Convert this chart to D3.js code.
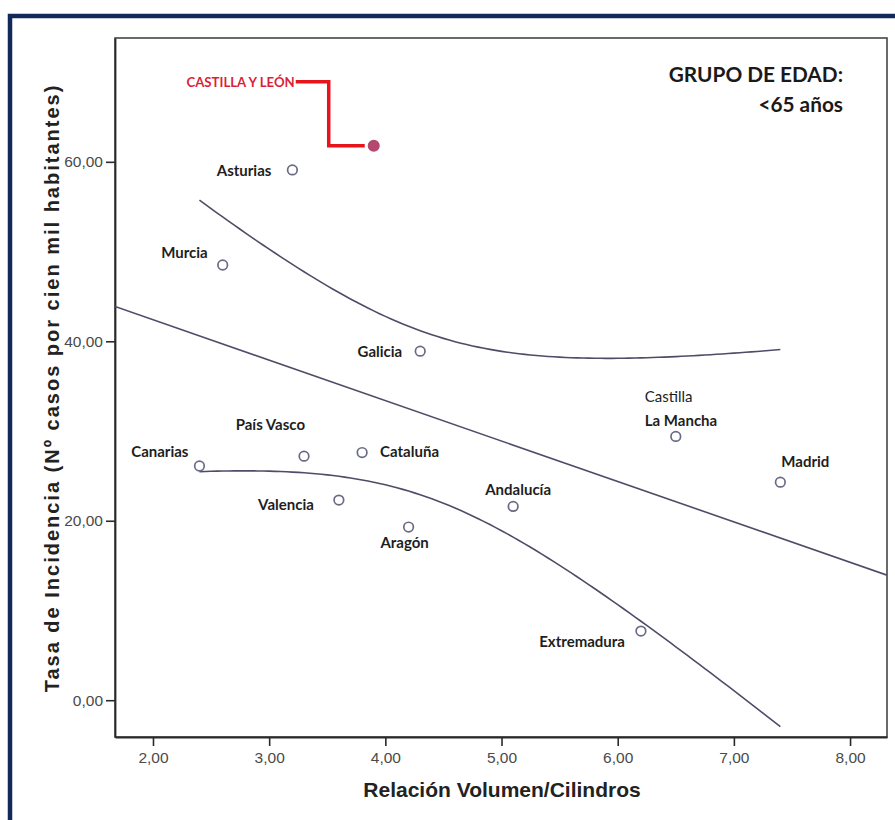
<!DOCTYPE html>
<html lang="es">
<head>
<meta charset="utf-8">
<title>Tasa de incidencia vs. relación volumen/cilindros</title>
<script src="https://cdn.jsdelivr.net/npm/d3@7/dist/d3.min.js"></script>
<style>
  html, body { margin: 0; padding: 0; background: #ffffff; }
  svg { display: block; }
</style>
</head>
<body>
<svg id="chart" width="895" height="820"></svg>
<script>
// Comunidades autónomas, relación volumen/cilindros y tasa de incidencia (<65 años)
const regions = ["Castilla y León", "Asturias", "Murcia", "Galicia", "Canarias", "País Vasco",
  "Cataluña", "Valencia", "Aragón", "Andalucía", "Castilla La Mancha", "Madrid", "Extremadura"];
const ratio = [3.9, 3.2, 2.6, 4.3, 2.4, 3.3, 3.8, 3.6, 4.2, 5.1, 6.5, 7.4, 6.2];
const incidence = [61.8, 59.1, 48.5, 38.9, 26.1, 27.2, 27.6, 22.3, 19.3, 21.6, 29.4, 24.3, 7.7];
const highlighted = ["Castilla y León"];
const xTicks = [2, 3, 4, 5, 6, 7, 8];
const yTicks = [0, 20, 40, 60];

// Label placement around each marker
const labelPlacement = {
  "Asturias":           { anchor: "end",    dx: -21, dy: [6] },
  "Murcia":             { anchor: "end",    dx: -15, dy: [-7] },
  "Galicia":            { anchor: "end",    dx: -18, dy: [6] },
  "Canarias":           { anchor: "end",    dx: -11, dy: [-9] },
  "País Vasco":         { anchor: "end",    dx: 1,   dy: [-26] },
  "Cataluña":           { anchor: "start",  dx: 18,  dy: [4] },
  "Valencia":           { anchor: "end",    dx: -25, dy: [10] },
  "Aragón":             { anchor: "middle", dx: -4,  dy: [21] },
  "Andalucía":          { anchor: "middle", dx: 5,   dy: [-11] },
  "Castilla La Mancha": { anchor: "start",  dx: -31, dy: [-34, -10], lines: ["Castilla", "La Mancha"], weights: [400, 700] },
  "Madrid":             { anchor: "start",  dx: 1,   dy: [-15] },
  "Extremadura":        { anchor: "end",    dx: -16, dy: [16] }
};

const svg = d3.select("#chart");
const W = 895, H = 820;
const plot = { left: 115, top: 38, right: 887, bottom: 737 };

// Scales
const x = d3.scaleLinear().domain([1.673, 8.318]).range([plot.left, plot.right]);
const y = d3.scaleLinear().domain([-4.1, 73.8]).range([plot.bottom, plot.top]);

// Outer frame of the figure
svg.append("rect")
  .attr("x", 10).attr("y", 16).attr("width", W + 20).attr("height", H + 20)
  .attr("fill", "#ffffff").attr("stroke", "#10295a").attr("stroke-width", 4.5);

// Plot area
svg.append("rect")
  .attr("x", plot.left).attr("y", plot.top)
  .attr("width", plot.right - plot.left).attr("height", plot.bottom - plot.top)
  .attr("fill", "#ffffff").attr("stroke", "#3a3a3a").attr("stroke-width", 1.5);

const fmt = v => d3.format(".2f")(v).replace(".", ",");

// Axes
const xAxis = svg.append("g")
  .attr("transform", `translate(0,${plot.bottom})`)
  .call(d3.axisBottom(x).tickValues(xTicks).tickSizeInner(9).tickSizeOuter(0).tickPadding(6).tickFormat(fmt));
const yAxis = svg.append("g")
  .attr("transform", `translate(${plot.left},0)`)
  .call(d3.axisLeft(y).tickValues(yTicks).tickSizeInner(9).tickSizeOuter(0).tickPadding(3).tickFormat(fmt));
[xAxis, yAxis].forEach(g => {
  g.select(".domain").attr("stroke", "#2a2a2a").attr("stroke-width", 1.8);
  g.selectAll(".tick line").attr("stroke", "#2a2a2a").attr("stroke-width", 1.6);
  g.selectAll(".tick text")
    .attr("fill", "#4a4a4a")
    .style("font-family", "'Liberation Sans', Arial, sans-serif")
    .style("font-size", "15.5px");
});

// Axis titles
svg.append("text")
  .attr("x", (plot.left + plot.right) / 2 + 1).attr("y", 797)
  .attr("text-anchor", "middle")
  .attr("fill", "#222")
  .style("font-family", "'Liberation Sans', Arial, sans-serif")
  .style("font-weight", 700).style("font-size", "21px")
  .text("Relación Volumen/Cilindros");

svg.append("text")
  .attr("transform", `translate(59,388) rotate(-90)`)
  .attr("text-anchor", "middle")
  .attr("fill", "#222")
  .style("font-family", "'Liberation Sans', Arial, sans-serif")
  .style("font-weight", 700).style("font-size", "20px")
  .style("letter-spacing", "2px")
  .text("Tasa de Incidencia (Nº casos por cien mil habitantes)");

// Least squares fit with 95% confidence band for the mean
const n = ratio.length;
const mx = d3.mean(ratio), my = d3.mean(incidence);
const sxx = d3.sum(ratio, v => (v - mx) ** 2);
const sxy = d3.sum(ratio, (v, i) => (v - mx) * (incidence[i] - my));
const slope = sxy / sxx;
const intercept = my - slope * mx;
const fit = v => intercept + slope * v;
const sse = d3.sum(ratio, (v, i) => (incidence[i] - fit(v)) ** 2);
const se = Math.sqrt(sse / (n - 2));
const T_CRIT = 2.201; // t(0.975, df = 11)
const half = v => T_CRIT * se * Math.sqrt(1 / n + (v - mx) ** 2 / sxx);

const clipId = "plot-clip";
svg.append("clipPath").attr("id", clipId)
  .append("rect")
  .attr("x", plot.left).attr("y", plot.top)
  .attr("width", plot.right - plot.left).attr("height", plot.bottom - plot.top);

const lines = svg.append("g").attr("clip-path", `url(#${clipId})`);
const line = d3.line().x(d => x(d[0])).y(d => y(d[1])).curve(d3.curveLinear);

const [xmin, xmax] = x.domain();
lines.append("path")
  .attr("d", line([[xmin, fit(xmin)], [xmax, fit(xmax)]]))
  .attr("fill", "none").attr("stroke", "#4d4d68").attr("stroke-width", 1.6);

const [dmin, dmax] = d3.extent(ratio);
const steps = d3.range(0, 101).map(i => dmin + (dmax - dmin) * i / 100);
[1, -1].forEach(sign => {
  lines.append("path")
    .attr("d", line(steps.map(v => [v, fit(v) + sign * half(v)])))
    .attr("fill", "none").attr("stroke", "#4d4d68").attr("stroke-width", 1.6);
});

// Markers
const pts = regions.map((r, i) => ({ name: r, vx: ratio[i], vy: incidence[i], hi: highlighted.includes(r) }));

svg.append("g").selectAll("circle")
  .data(pts)
  .join("circle")
  .attr("cx", d => x(d.vx)).attr("cy", d => y(d.vy))
  .attr("r", d => d.hi ? 5.2 : 4.8)
  .attr("fill", d => d.hi ? "#b4486f" : "#ffffff")
  .attr("stroke", d => d.hi ? "#b4486f" : "#6a6a86")
  .attr("stroke-width", 1.7);

// Region labels
const labelFont = "Lato, 'Open Sans', sans-serif";
const lab = svg.append("g");
pts.filter(d => labelPlacement[d.name]).forEach(d => {
  const p = labelPlacement[d.name];
  const textLines = p.lines || [d.name];
  textLines.forEach((t, k) => {
    lab.append("text")
      .attr("x", x(d.vx) + p.dx).attr("y", y(d.vy) + p.dy[k])
      .attr("text-anchor", p.anchor)
      .attr("fill", "#1e1e1e")
      .style("font-family", labelFont)
      .style("font-weight", p.weights ? p.weights[k] : 700)
      .style("font-size", "15px")
      .text(t);
  });
});

// Highlighted region callout
const hi = pts.find(d => d.hi);
const hx = x(hi.vx), hy = y(hi.vy);
const calloutY = hy - 64;
const bendX = hx - 45;
svg.append("text")
  .attr("x", bendX - 34).attr("y", calloutY + 5)
  .attr("text-anchor", "end")
  .attr("fill", "#dc1f35")
  .style("font-family", labelFont)
  .style("font-weight", 700).style("font-size", "13.2px")
  .text(hi.name.toUpperCase());
svg.append("path")
  .attr("d", d3.line()([[bendX - 33, calloutY], [bendX, calloutY], [bendX, hy], [hx - 9, hy]]))
  .attr("fill", "none").attr("stroke", "#e8141c").attr("stroke-width", 3.5)
  .attr("stroke-linejoin", "miter");

// Age group note
const note = svg.append("text")
  .attr("text-anchor", "end")
  .attr("fill", "#1a1a1a")
  .style("font-family", labelFont)
  .style("font-weight", 700).style("font-size", "20.8px");
note.append("tspan").attr("x", 843).attr("y", 82).text("GRUPO DE EDAD:");
note.append("tspan").attr("x", 843).attr("y", 112).text("<65 años");
</script>
</body>
</html>
